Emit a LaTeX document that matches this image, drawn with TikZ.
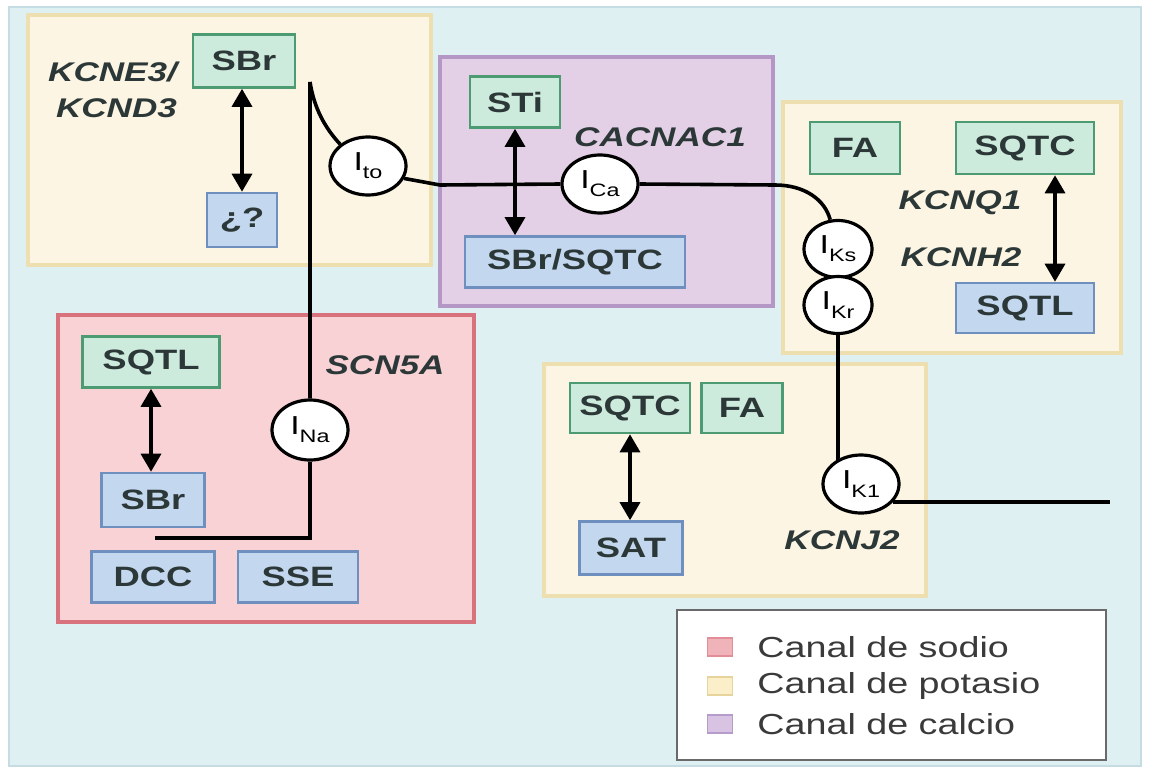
\documentclass[tikz,border=0pt]{standalone}
\usepackage{fontspec}
\setmainfont{Liberation Sans}[FakeStretch=1.3]
\usetikzlibrary{shapes.geometric,arrows.meta}
\definecolor{bgc}{HTML}{DFF0F3}
\definecolor{bgline}{HTML}{C4DCE2}
\definecolor{yelf}{HTML}{FDF5E3}
\definecolor{yeld}{HTML}{EEDFB0}
\definecolor{purf}{HTML}{E4D0E6}
\definecolor{purd}{HTML}{B597C6}
\definecolor{redf}{HTML}{F8D2D5}
\definecolor{redd}{HTML}{D8727D}
\definecolor{gbf}{HTML}{CDEBDC}
\definecolor{gbd}{HTML}{4C9B72}
\definecolor{bbf}{HTML}{C3D7EF}
\definecolor{bbd}{HTML}{6F8FBE}
\definecolor{txt}{HTML}{2C3838}
\definecolor{legt}{HTML}{3A3A3A}
\definecolor{legd}{HTML}{6A6A6A}
\definecolor{sqr}{HTML}{F0B3BA}
\definecolor{sqrd}{HTML}{E28E98}
\definecolor{sqy}{HTML}{FBEFC9}
\definecolor{sqyd}{HTML}{E6D49C}
\definecolor{sqp}{HTML}{D8C3E3}
\definecolor{sqpd}{HTML}{B49DCA}
\newcommand\cur[1]{I\raisebox{-0.6ex}{\fontsize{9}{9}\selectfont #1}}
\tikzset{
 gbox/.style={draw=gbd, fill=gbf, line width=1.3pt, inner sep=0pt, text=txt,
   font=\bfseries\fontsize{14}{16}\selectfont},
 bbox/.style={gbox, draw=bbd, fill=bbf},
 chan/.style={ellipse, draw=black, fill=white, line width=1.6pt, minimum width=38pt,
   minimum height=29pt, inner sep=0pt, font=\fontsize{13}{13}\selectfont},
 gene/.style={font=\bfseries\itshape\fontsize{13.5}{18}\selectfont, text=txt},
 wire/.style={line width=1.8pt, black},
 dar/.style={line width=1.7pt, {Triangle[length=9pt,width=10pt]}-{Triangle[length=9pt,width=10pt]}},
 region/.style={line width=1.6pt},
 legtxt/.style={anchor=west, inner sep=0pt, text=legt, font=\fontsize{14.5}{16}\selectfont},
 legsq/.style={line width=0.8pt, minimum width=12.5pt, minimum height=9pt, inner sep=0pt},
}
\begin{document}
\begin{tikzpicture}[x=0.5pt,y=-0.5pt]
\useasboundingbox (0,0) rectangle (1149,771);
\fill[white] (0,0) rectangle (1149,771);
\filldraw[fill=bgc, draw=bgline, line width=1pt] (9,7) rectangle (1141,766);
% regions
\filldraw[region, fill=yelf, draw=yeld] (28,15) rectangle (431,265);
\filldraw[region, fill=purf, draw=purd] (440,57) rectangle (773,306);
\filldraw[region, fill=yelf, draw=yeld] (783,102) rectangle (1121,353);
\filldraw[region, fill=redf, draw=redd] (58,315) rectangle (474,622);
\filldraw[region, fill=yelf, draw=yeld] (544,364) rectangle (926,596);
\filldraw[fill=white, draw=legd, line width=1.3pt] (677,610) rectangle (1106,760);
% boxes
\node[gbox, minimum width=51pt, minimum height=26.5pt] (sbrA) at (244,61) {SBr};
\node[bbox, minimum width=35pt, minimum height=27pt] (qA) at (242,220) {¿?};
\node[gbox, minimum width=45pt, minimum height=25.5pt] (sti) at (515,102) {STi};
\node[bbox, minimum width=110pt, minimum height=25.5pt] (sbrsqtc) at (575,262) {SBr/SQTC};
\node[gbox, minimum width=45pt, minimum height=26pt] (faR) at (855,148) {FA};
\node[gbox, minimum width=69pt, minimum height=26pt] (sqtcR) at (1025,148) {SQTC};
\node[bbox, minimum width=69pt, minimum height=25pt] (sqtlR) at (1025,308) {SQTL};
\node[gbox, minimum width=68.5pt, minimum height=25.5pt] (sqtlL) at (151,362) {SQTL};
\node[bbox, minimum width=51.5pt, minimum height=27pt] (sbrL) at (153,500) {SBr};
\node[bbox, minimum width=61.5pt, minimum height=25.5pt] (dcc) at (153,577) {DCC};
\node[bbox, minimum width=60pt, minimum height=25.5pt] (sse) at (298,577) {SSE};
\node[gbox, minimum width=60pt, minimum height=25pt] (sqtcB) at (630,408) {SQTC};
\node[gbox, minimum width=40.5pt, minimum height=25pt] (faB) at (742,408) {FA};
\node[bbox, minimum width=51.5pt, minimum height=26.5pt] (sat) at (631,548) {SAT};
% gene labels
\node[gene, align=right, anchor=east] (kcne) at (184,90) {KCNE3/\\KCND3};
\node[gene] (cacn) at (660,137) {CACNAC1};
\node[gene] (kcnq) at (960,203) {KCNQ1};
\node[gene] (kcnh) at (961,257) {KCNH2};
\node[gene] (scn) at (385,365) {SCN5A};
\node[gene] (kcnj) at (842,540) {KCNJ2};
% channels
\node[chan] (Ito) at (368,166) {\cur{to}};
\node[chan] (ICa) at (600,184) {\cur{Ca}};
\node[chan, minimum width=34pt, minimum height=28.5pt] (IKs) at (838,249) {\cur{Ks}};
\node[chan, minimum width=34pt, minimum height=28.5pt] (IKr) at (838,305) {\cur{Kr}};
\node[chan, minimum height=30pt] (INa) at (310,430) {\cur{Na}};
\node[chan] (IK1) at (861,484) {\cur{K1}};
% free ends
\coordinate (naEnd) at (155,538);
\coordinate (naCorner) at (310,538);
\coordinate (topV) at (310,82);
\coordinate (toR) at (440,185);
\coordinate (caR) at (775,185);
\coordinate (endR) at (1110,500);
% wire
\draw[wire] (naEnd) -- (naCorner) -- (INa.south);
\draw[wire] (INa.north) -- (topV) .. controls (314,108) and (325,128) .. (Ito.142);
\draw[wire] (Ito.-19) -- (toR) -- (ICa.west);
\draw[wire] (ICa.east) -- (caR) .. controls (805,185) and (825,200) .. (IKs.105);
\draw[wire] (IKr.south) -- (IKr.south |- IK1.130) -- (IK1.130);
\draw[wire] (IK1.-29) -- (IK1.-29 -| endR);
% double arrows
\draw[dar] (qA.north |- sbrA.south) -- (qA.north);
\draw[dar] (sti.south) -- (sti.south |- sbrsqtc.north);
\draw[dar] ([xshift=15pt]sqtcR.south) -- ([xshift=15pt]sqtlR.north);
\draw[dar] (sqtlL.south) -- (sqtlL.south |- sbrL.north);
\draw[dar] (sqtcB.south) -- (sqtcB.south |- sat.north);
% legend
\node[legsq, fill=sqr, draw=sqrd] (ls1) at (720,647) {};
\node[legsq, fill=sqy, draw=sqyd] (ls2) at (720,686) {};
\node[legsq, fill=sqp, draw=sqpd] (ls3) at (720,724) {};
\node[legtxt] (lt1) at (757,647) {Canal de sodio};
\node[legtxt] (lt2) at (757,686) {Canal de potasio};
\node[legtxt] (lt3) at (757,724) {Canal de calcio};
\end{tikzpicture}
\end{document}
